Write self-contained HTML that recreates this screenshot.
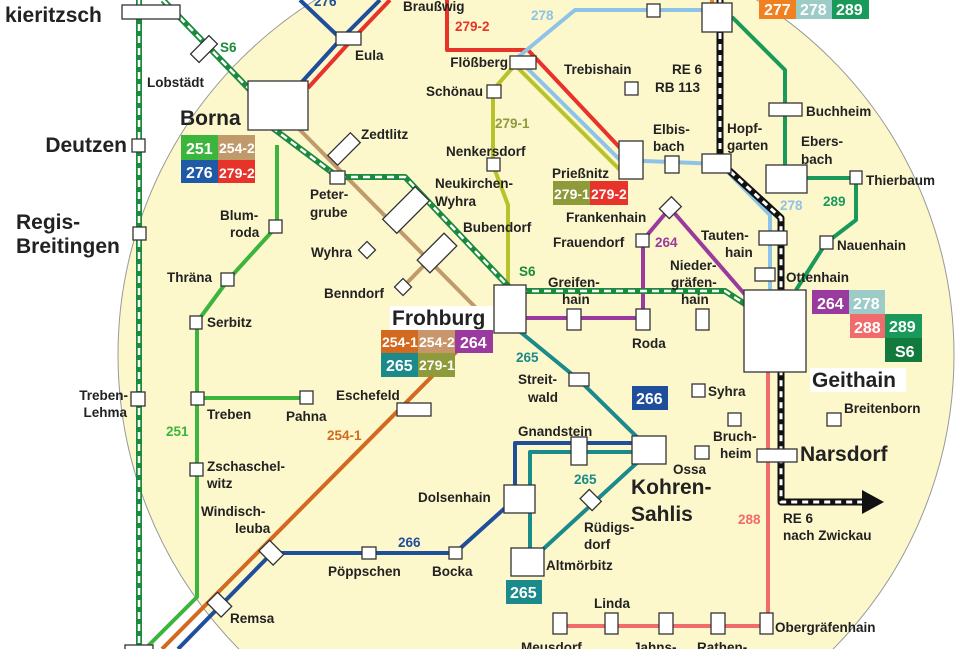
<!DOCTYPE html>
<html><head><meta charset="utf-8"><style>
html,body{margin:0;padding:0;background:#fff;width:973px;height:649px;overflow:hidden;}
svg{display:block;overflow:hidden;}
text{font-family:"Liberation Sans",sans-serif;font-weight:bold;fill:#222;}
.s{font-size:13.5px;}
.b{font-size:21px;}
.w{fill:#fff;font-size:16px;}
.ws{fill:#fff;font-size:14px;}
</style></head><body>
<svg width="973" height="649" viewBox="0 0 973 649" xmlns="http://www.w3.org/2000/svg">
<circle cx="536" cy="355" r="418" fill="#fdf7cc" stroke="#999" stroke-width="1"/>

<line x1="139" y1="0" x2="139" y2="649" stroke="#1a8a3c" stroke-width="6"/>
<line x1="139" y1="0" x2="139" y2="649" stroke="#fff" stroke-width="2.5" stroke-dasharray="7 5"/>
<g fill="none">
<polyline points="163,0 250,90" stroke="#1a8a3c" stroke-width="6"/>
<polyline points="163,0 250,90" stroke="#fff" stroke-width="2.5" stroke-dasharray="7 5"/>
</g>

<g fill="none" stroke-linejoin="round">
<polyline points="300,0 340,38" stroke="#1f4e9a" stroke-width="4"/>
<polyline points="300,84 340,40 380,0" stroke="#1f4e9a" stroke-width="4"/>
<polyline points="308,88 348,44 390,0" stroke="#e8332a" stroke-width="4"/>
<polyline points="447,0 447,50 528,50 622,150" stroke="#e8332a" stroke-width="4"/>
<polyline points="517,58 575,10 710,10" stroke="#8ec3e8" stroke-width="4"/>
<polyline points="525,66 620,160 720,164 770,215 770,292" stroke="#8ec3e8" stroke-width="4"/>
<polyline points="514,66 493,90 493,165 508,205 508,285" stroke="#b8c22a" stroke-width="4"/>
<polyline points="516,66 620,170" stroke="#b8c22a" stroke-width="4"/>
<polyline points="732,17 785,70 785,170" stroke="#1a9a5a" stroke-width="4"/>
<polyline points="805,178 856,178 856,220 826,243 796,290" stroke="#1a9a5a" stroke-width="4"/>
<polyline points="298,128 488,320" stroke="#c19a6b" stroke-width="4"/>
<polyline points="403,287 437,252" stroke="#c19a6b" stroke-width="4"/>
<polyline points="277,145 277,226 228,280 197,322 197,597 145,649" stroke="#3cb53c" stroke-width="4"/>
<polyline points="197,398 306,398" stroke="#3cb53c" stroke-width="4"/>
<polyline points="162,649 470,338" stroke="#d2691e" stroke-width="4"/>
<polyline points="178,649 272,553 455,553 515,499 515,443 640,443" stroke="#1f4e9a" stroke-width="4"/>
<polyline points="518,330 579,380 640,440" stroke="#1a8a8a" stroke-width="4"/>
<polyline points="640,452 530,452 530,555" stroke="#1a8a8a" stroke-width="4"/>
<polyline points="640,460 540,552" stroke="#1a8a8a" stroke-width="4"/>
<polyline points="520,318 643,318 643,240 670,208 748,298" stroke="#9a3a9e" stroke-width="4"/>
<polyline points="768,370 768,626 560,626" stroke="#f06b6b" stroke-width="4"/>
<polyline points="262,120 338,177 405,177 510,288" stroke="#1a8a3c" stroke-width="6"/>
<polyline points="262,120 338,177 405,177 510,288" stroke="#fff" stroke-width="2.5" stroke-dasharray="7 5"/>
<polyline points="520,291 725,291 748,306" stroke="#1a8a3c" stroke-width="6"/>
<polyline points="520,291 725,291 748,306" stroke="#fff" stroke-width="2.5" stroke-dasharray="7 5"/>
<polyline points="720,0 720,162 781,218 781,502 868,502" stroke="#111" stroke-width="7"/>
<polyline points="720,0 720,162 781,218 781,502 868,502" stroke="#fff" stroke-width="3" stroke-dasharray="6 5"/>
<line x1="712" y1="0" x2="712" y2="4" stroke="#f08020" stroke-width="4"/>
</g>
<polygon points="862,490 884,502 862,514" fill="#111"/>

<g fill="#fff" stroke="#333" stroke-width="1.3">
<rect x="122" y="5" width="58" height="14"/>
<rect x="132" y="139" width="13" height="13"/>
<rect x="133" y="227" width="13" height="13"/>
<rect x="131" y="392" width="14" height="14"/>
<rect x="125" y="645" width="28" height="10"/>
<rect x="191" y="43" width="26" height="12" transform="rotate(-45 204 49)"/>
<rect x="248" y="81" width="60" height="49"/>
<rect x="336" y="32" width="25" height="13"/>
<rect x="510" y="56" width="26" height="13"/>
<rect x="487" y="85" width="14" height="13"/>
<rect x="487" y="158" width="13" height="13"/>
<rect x="625" y="82" width="13" height="13"/>
<rect x="647" y="4" width="13" height="13"/>
<rect x="702" y="3" width="30" height="29"/>
<rect x="619" y="141" width="24" height="38"/>
<rect x="665" y="156" width="14" height="17"/>
<rect x="702" y="154" width="29" height="19"/>
<rect x="769" y="103" width="33" height="13"/>
<rect x="766" y="165" width="41" height="28"/>
<rect x="850" y="171" width="12" height="13"/>
<rect x="820" y="236" width="13" height="13"/>
<rect x="759" y="231" width="28" height="14"/>
<rect x="755" y="268" width="20" height="13"/>
<rect x="744" y="290" width="62" height="82"/>
<rect x="494" y="285" width="32" height="48"/>
<rect x="567" y="309" width="14" height="21"/>
<rect x="636" y="309" width="14" height="21"/>
<rect x="696" y="309" width="13" height="21"/>
<rect x="636" y="234" width="13" height="13"/>
<rect x="662" y="201" width="17" height="14" transform="rotate(-45 670 208)"/>
<rect x="330" y="171" width="15" height="13"/>
<rect x="328" y="142" width="32" height="14" transform="rotate(-45 344 149)"/>
<rect x="383" y="200" width="46" height="20" transform="rotate(-45 406 210)"/>
<rect x="418" y="244" width="38" height="18" transform="rotate(-45 437 253)"/>
<rect x="361" y="244" width="12" height="12" transform="rotate(-45 367 250)"/>
<rect x="397" y="281" width="12" height="12" transform="rotate(-45 403 287)"/>
<rect x="269" y="220" width="13" height="13"/>
<rect x="221" y="273" width="13" height="13"/>
<rect x="190" y="316" width="12" height="13"/>
<rect x="191" y="392" width="13" height="13"/>
<rect x="300" y="391" width="13" height="13"/>
<rect x="190" y="463" width="13" height="13"/>
<rect x="397" y="403" width="34" height="13"/>
<rect x="261" y="545" width="20" height="15" transform="rotate(45 271 553)"/>
<rect x="209" y="597" width="20" height="15" transform="rotate(45 219 605)"/>
<rect x="362" y="547" width="14" height="12"/>
<rect x="449" y="547" width="13" height="12"/>
<rect x="504" y="485" width="31" height="28"/>
<rect x="511" y="548" width="33" height="28"/>
<rect x="571" y="437" width="16" height="28"/>
<rect x="632" y="436" width="34" height="28"/>
<rect x="569" y="373" width="20" height="13"/>
<rect x="582" y="493" width="17" height="13" transform="rotate(45 590 500)"/>
<rect x="692" y="384" width="13" height="13"/>
<rect x="728" y="413" width="13" height="13"/>
<rect x="695" y="446" width="14" height="13"/>
<rect x="827" y="413" width="14" height="13"/>
<rect x="757" y="449" width="40" height="13"/>
<rect x="553" y="613" width="14" height="21"/>
<rect x="605" y="613" width="13" height="21"/>
<rect x="659" y="613" width="14" height="21"/>
<rect x="711" y="613" width="14" height="21"/>
<rect x="760" y="613" width="13" height="21"/>
</g>

<g>
<rect x="181" y="135" width="37" height="25" fill="#3cb53c"/><text x="186" y="154" class="w">251</text>
<rect x="218" y="135" width="37" height="25" fill="#c19a6b"/><text x="219" y="153" class="ws">254-2</text>
<rect x="181" y="160" width="37" height="23" fill="#1f5aa6"/><text x="186" y="178" class="w">276</text>
<rect x="218" y="160" width="37" height="23" fill="#e8332a"/><text x="219" y="178" class="ws">279-2</text>
<rect x="553" y="181" width="37" height="24" fill="#8f9a3a"/><text x="554" y="199" class="ws">279-1</text>
<rect x="590" y="181" width="38" height="24" fill="#e8332a"/><text x="591" y="199" class="ws">279-2</text>
<rect x="759" y="0" width="37" height="19" fill="#f08020"/><text x="764" y="15" class="w">277</text>
<rect x="796" y="0" width="36" height="19" fill="#9ccbc8"/><text x="800" y="15" class="w">278</text>
<rect x="832" y="0" width="37" height="19" fill="#1a9a5a"/><text x="836" y="15" class="w">289</text>
<rect x="812" y="290" width="37" height="24" fill="#9a3a9e"/><text x="817" y="309" class="w">264</text>
<rect x="849" y="290" width="36" height="24" fill="#9ccbc8"/><text x="853" y="309" class="w">278</text>
<rect x="850" y="314" width="35" height="24" fill="#f06b6b"/><text x="854" y="333" class="w">288</text>
<rect x="885" y="314" width="37" height="24" fill="#1a9a5a"/><text x="889" y="332" class="w">289</text>
<rect x="885" y="338" width="37" height="24" fill="#137a3e"/><text x="895" y="357" class="w">S6</text>
<rect x="381" y="330" width="37" height="23" fill="#d2691e"/><text x="382" y="347" class="ws">254-1</text>
<rect x="418" y="330" width="37" height="23" fill="#c9966b"/><text x="419" y="347" class="ws">254-2</text>
<rect x="455" y="330" width="38" height="23" fill="#9a3a9e"/><text x="460" y="348" class="w">264</text>
<rect x="381" y="353" width="37" height="24" fill="#1a8a8a"/><text x="386" y="371" class="w">265</text>
<rect x="418" y="353" width="37" height="24" fill="#8f9a3a"/><text x="419" y="370" class="ws">279-1</text>
<rect x="632" y="386" width="36" height="24" fill="#1f4e9a"/><text x="636" y="404" class="w">266</text>
<rect x="506" y="580" width="36" height="24" fill="#1a8a8a"/><text x="510" y="598" class="w">265</text>
</g>

<rect x="390" y="306" width="103" height="24" fill="#fff"/>
<rect x="810" y="368" width="96" height="24" fill="#fff"/>
<text x="5" y="22" class="b">kieritzsch</text>
<text x="127" y="152" class="b" text-anchor="end">Deutzen</text>
<text x="16" y="229" class="b">Regis-</text>
<text x="16" y="253" class="b">Breitingen</text>
<text x="180" y="125" class="b">Borna</text>
<text x="392" y="325" class="b">Frohburg</text>
<text x="812" y="387" class="b">Geithain</text>
<text x="800" y="461" class="b">Narsdorf</text>
<text x="631" y="494" class="b">Kohren-</text>
<text x="631" y="521" class="b">Sahlis</text>

<g class="s">
<text x="128" y="400" class="s" text-anchor="end">Treben-</text>
<text x="127" y="417" class="s" text-anchor="end">Lehma</text>
<text x="147" y="87" class="s">Lobstädt</text>
<text x="220" y="52" class="s" style="fill:#1a8a3c">S6</text>
<text x="314" y="6" class="s" style="fill:#1f4e9a">276</text>
<text x="355" y="60" class="s">Eula</text>
<text x="403" y="11" class="s">Braußwig</text>
<text x="455" y="31" class="s" style="fill:#e8332a">279-2</text>
<text x="508" y="67" class="s" text-anchor="end">Flößberg</text>
<text x="483" y="96" class="s" text-anchor="end">Schönau</text>
<text x="495" y="128" class="s" style="fill:#8f9a3a">279-1</text>
<text x="446" y="156" class="s">Nenkersdorf</text>
<text x="435" y="188" class="s">Neukirchen-</text>
<text x="435" y="206" class="s">Wyhra</text>
<text x="463" y="232" class="s">Bubendorf</text>
<text x="361" y="139" class="s">Zedtlitz</text>
<text x="310" y="199" class="s">Peter-</text>
<text x="310" y="217" class="s">grube</text>
<text x="352" y="257" class="s" text-anchor="end">Wyhra</text>
<text x="324" y="298" class="s">Benndorf</text>
<text x="220" y="220" class="s">Blum-</text>
<text x="230" y="237" class="s">roda</text>
<text x="167" y="282" class="s">Thräna</text>
<text x="207" y="327" class="s">Serbitz</text>
<text x="207" y="419" class="s">Treben</text>
<text x="286" y="421" class="s">Pahna</text>
<text x="336" y="400" class="s">Eschefeld</text>
<text x="327" y="440" class="s" style="fill:#d2691e">254-1</text>
<text x="166" y="436" class="s" style="fill:#3cb53c">251</text>
<text x="207" y="471" class="s">Zschaschel-</text>
<text x="207" y="488" class="s">witz</text>
<text x="201" y="516" class="s">Windisch-</text>
<text x="235" y="533" class="s">leuba</text>
<text x="328" y="576" class="s">Pöppschen</text>
<text x="432" y="576" class="s">Bocka</text>
<text x="398" y="547" class="s" style="fill:#1f4e9a">266</text>
<text x="230" y="623" class="s">Remsa</text>
<text x="418" y="502" class="s">Dolsenhain</text>
<text x="516" y="362" class="s" style="fill:#1a8a8a">265</text>
<text x="518" y="384" class="s">Streit-</text>
<text x="528" y="402" class="s">wald</text>
<text x="518" y="436" class="s">Gnandstein</text>
<text x="574" y="484" class="s" style="fill:#1a8a8a">265</text>
<text x="584" y="532" class="s">Rüdigs-</text>
<text x="584" y="549" class="s">dorf</text>
<text x="546" y="570" class="s">Altmörbitz</text>
<text x="673" y="474" class="s">Ossa</text>
<text x="708" y="396" class="s">Syhra</text>
<text x="713" y="441" class="s">Bruch-</text>
<text x="720" y="458" class="s">heim</text>
<text x="844" y="413" class="s">Breitenborn</text>
<text x="738" y="524" class="s" style="fill:#f06b6b">288</text>
<text x="783" y="523" class="s">RE 6</text>
<text x="783" y="540" class="s">nach Zwickau</text>
<text x="594" y="608" class="s">Linda</text>
<text x="521" y="652" class="s">Meusdorf</text>
<text x="633" y="652" class="s">Jahns-</text>
<text x="697" y="652" class="s">Rathen-</text>
<text x="775" y="632" class="s">Obergräfenhain</text>
<text x="531" y="20" class="s" style="fill:#8ec3e8">278</text>
<text x="564" y="74" class="s">Trebishain</text>
<text x="672" y="74" class="s">RE 6</text>
<text x="655" y="92" class="s">RB 113</text>
<text x="653" y="134" class="s">Elbis-</text>
<text x="653" y="151" class="s">bach</text>
<text x="727" y="133" class="s">Hopf-</text>
<text x="727" y="150" class="s">garten</text>
<text x="806" y="116" class="s">Buchheim</text>
<text x="801" y="146" class="s">Ebers-</text>
<text x="801" y="164" class="s">bach</text>
<text x="866" y="185" class="s">Thierbaum</text>
<text x="780" y="210" class="s" style="fill:#8ec3e8">278</text>
<text x="823" y="206" class="s" style="fill:#1a9a5a">289</text>
<text x="552" y="178" class="s">Prießnitz</text>
<text x="566" y="222" class="s">Frankenhain</text>
<text x="553" y="247" class="s">Frauendorf</text>
<text x="655" y="247" class="s" style="fill:#9a3a9e">264</text>
<text x="701" y="240" class="s">Tauten-</text>
<text x="725" y="257" class="s">hain</text>
<text x="670" y="270" class="s">Nieder-</text>
<text x="671" y="287" class="s">gräfen-</text>
<text x="681" y="304" class="s">hain</text>
<text x="837" y="250" class="s">Nauenhain</text>
<text x="786" y="282" class="s">Ottenhain</text>
<text x="548" y="287" class="s">Greifen-</text>
<text x="562" y="304" class="s">hain</text>
<text x="519" y="276" class="s" style="fill:#1a8a3c">S6</text>
<text x="632" y="348" class="s">Roda</text>
</g>
</svg>
</body></html>
